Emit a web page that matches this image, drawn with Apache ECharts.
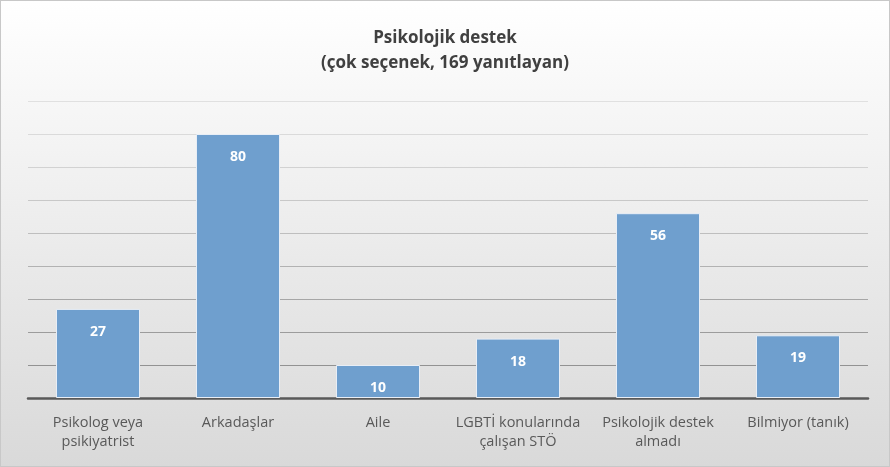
<!DOCTYPE html>
<html>
<head>
<meta charset="utf-8">
<script src="https://cdn.jsdelivr.net/npm/echarts@6/dist/echarts.min.js"></script>
<style>
  html, body { margin: 0; padding: 0; }
  #chart { width: 890px; height: 467px; box-sizing: border-box; border: 1px solid #c8c8c8; }
</style>
</head>
<body>
<div id="chart"></div>
<script>
// veriler
const categories = [
  "Psikolog veya\npsikiyatrist",
  "Arkadaşlar",
  "Aile",
  "LGBTİ konularında\nçalışan STÖ",
  "Psikolojik destek\nalmadı",
  "Bilmiyor (tanık)"
];
const values = [27, 80, 10, 18, 56, 19];

const myChart = echarts.init(document.getElementById("chart"));

const option = {
  backgroundColor: {
    type: "linear", x: 0, y: 0, x2: 0, y2: 1,
    colorStops: [
      { offset: 0, color: "#ffffff" },
      { offset: 1, color: "#d9d9d9" }
    ]
  },
  textStyle: { fontFamily: "Open Sans" },
  title: {
    text: "Psikolojik destek\n(çok seçenek, 169 yanıtlayan)",
    left: "center",
    top: 20,
    textStyle: {
      fontSize: 17,
      fontWeight: "bold",
      color: "#404040",
      lineHeight: 25,
      fontFamily: "Open Sans"
    }
  },
  grid: { left: 27, right: 21, top: 100, bottom: 68 },
  xAxis: {
    type: "category",
    data: categories,
    axisTick: { show: false },
    axisLine: { lineStyle: { color: "#595959", width: 2.5 } },
    axisLabel: {
      color: "#595959",
      fontSize: 14.5,
      lineHeight: 19,
      margin: 15,
      interval: 0
    }
  },
  yAxis: {
    type: "value",
    min: 0,
    max: 90,
    interval: 10,
    axisLabel: { show: false },
    axisLine: { show: false },
    axisTick: { show: false },
    splitLine: {
      lineStyle: {
        color: ["#8c8c8c", "#929292", "#9c9c9c", "#a6a6a6", "#b2b2b2",
                "#bebebe", "#c8c8c8", "#d2d2d2", "#dadada", "#e0e0e0"],
        width: 1
      }
    }
  },
  series: [
    {
      type: "bar",
      data: values,
      barWidth: "60%",
      itemStyle: {
        color: "#6f9fce",
        borderColor: "#e8eef6",
        borderWidth: 1
      },
      label: {
        show: true,
        position: "insideTop",
        distance: 16,
        color: "#ffffff",
        fontSize: 14,
        fontWeight: "bold"
      }
    }
  ]
};

myChart.setOption(option);
</script>
</body>
</html>
